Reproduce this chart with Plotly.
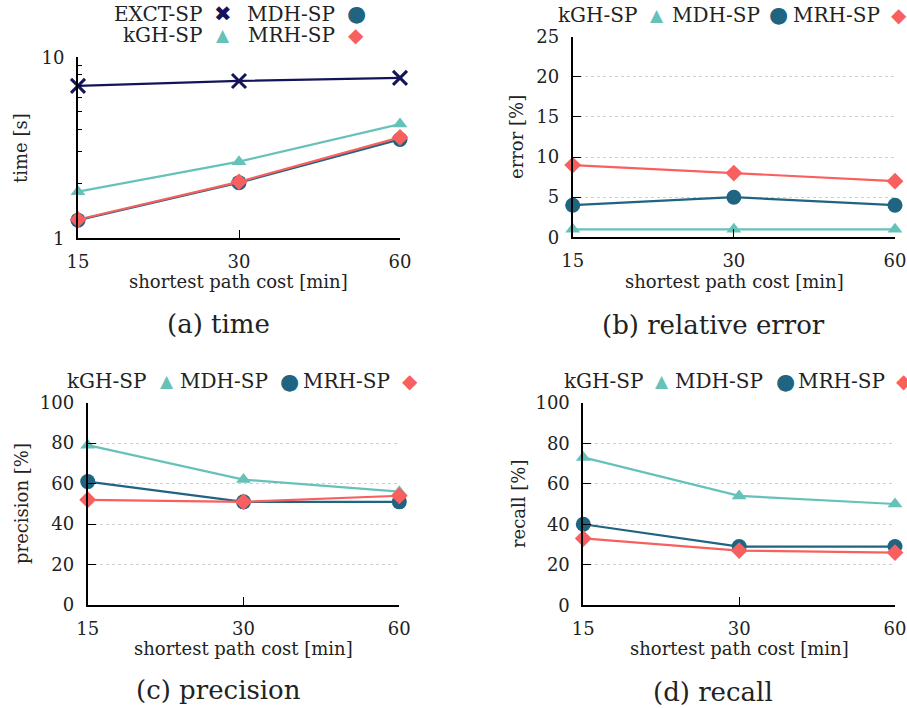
import plotly.graph_objects as go

W, H = 907, 708

# ---- data ----
x_cats = ["15", "30", "60"]
time_exct = [6.95, 7.40, 7.70]
time_kgh = [1.81, 2.65, 4.28]
time_mdh = [1.26, 2.03, 3.52]
time_mrh = [1.27, 2.05, 3.61]
err_kgh = [1, 1, 1]
err_mdh = [4, 5, 4]
err_mrh = [9, 8, 7]
prec_kgh = [79, 62, 56]
prec_mdh = [61, 51, 51]
prec_mrh = [52, 51, 54]
rec_kgh = [73, 54, 50]
rec_mdh = [40, 29, 29]
rec_mrh = [33, 27, 26]

C_EXCT = "#14145a"
C_KGH = "#66c2b9"
C_MDH = "#1f6481"
C_MRH = "#f8605f"

FONT = "DejaVu Serif"

def X(p):
    return p / W

def Y(p):
    return 1 - p / H

fig = go.Figure()

styles = {
    "EXCT": dict(color=C_EXCT, symbol="x-thin", size=14, line=dict(width=3, color=C_EXCT)),
    "kGH": dict(color=C_KGH, symbol="triangle-up", size=13),
    "MDH": dict(color=C_MDH, symbol="circle", size=15),
    "MRH": dict(color=C_MRH, symbol="diamond", size=13),
}
colors = {"EXCT": C_EXCT, "kGH": C_KGH, "MDH": C_MDH, "MRH": C_MRH}

def add(series, key, n):
    fig.add_trace(go.Scatter(
        x=x_cats, y=series, mode="lines+markers",
        line=dict(color=colors[key], width=2.2),
        marker=styles[key], cliponaxis=False, showlegend=False,
        xaxis="x" if n == 1 else f"x{n}", yaxis="y" if n == 1 else f"y{n}",
    ))

add(time_exct, "EXCT", 1)
add(time_kgh, "kGH", 1)
add(time_mdh, "MDH", 1)
add(time_mrh, "MRH", 1)
add(err_kgh, "kGH", 2)
add(err_mdh, "MDH", 2)
add(err_mrh, "MRH", 2)
add(prec_kgh, "kGH", 3)
add(prec_mdh, "MDH", 3)
add(prec_mrh, "MRH", 3)
add(rec_kgh, "kGH", 4)
add(rec_mdh, "MDH", 4)
add(rec_mrh, "MRH", 4)

tickfont = dict(family=FONT, size=18, color="#222")

def xax(dom):
    return dict(domain=dom, type="category", range=[0, 2], showgrid=False, zeroline=False,
                showline=True, linecolor="black", linewidth=1.8, ticks="inside", ticklen=8,
                tickcolor="black", tickwidth=1.2, tickfont=tickfont, ticklabelstandoff=6,
                automargin=False)

def yax(dom, anchor, **kw):
    d = dict(domain=dom, anchor=anchor, showgrid=True, gridcolor="#cfcfcf", griddash="dot",
             gridwidth=1, zeroline=False, showline=True, linecolor="black", linewidth=1.8,
             ticks="inside", ticklen=8, tickcolor="black", tickwidth=1.2, tickfont=tickfont,
             ticklabelstandoff=8, automargin=False)
    d.update(kw)
    return d

dom = {
    1: ([X(78), X(400)], [Y(238.3), Y(57.3)]),
    2: ([X(572.7), X(895)], [Y(237.3), Y(36.7)]),
    3: ([X(87.7), X(399.3)], [Y(605), Y(402.7)]),
    4: ([X(583.3), X(895)], [Y(605.3), Y(402.7)]),
}

fig.update_layout(
    width=W, height=H, margin=dict(l=0, r=0, t=0, b=0, pad=0, autoexpand=False),
    paper_bgcolor="white", plot_bgcolor="white", showlegend=False,
    xaxis=dict(**xax(dom[1][0]), anchor="y"),
    yaxis=yax(dom[1][1], "x", type="log", range=[0, 1], tickvals=[1, 10], ticktext=["1", "10"],
              minor=dict(tickvals=[2, 3, 4, 5, 6, 7, 8, 9], ticks="inside", ticklen=4,
                         tickcolor="black", showgrid=False)),
    xaxis2=dict(**xax(dom[2][0]), anchor="y2"),
    yaxis2=yax(dom[2][1], "x2", range=[0, 25], dtick=5),
    xaxis3=dict(**xax(dom[3][0]), anchor="y3"),
    yaxis3=yax(dom[3][1], "x3", range=[0, 100], dtick=20),
    xaxis4=dict(**xax(dom[4][0]), anchor="y4"),
    yaxis4=yax(dom[4][1], "x4", range=[0, 100], dtick=20),
)

ann = []
def text(s, px, py, size=18, angle=0, xanchor="center", color="#222", family=FONT):
    ann.append(dict(text=s, x=X(px), y=Y(py), xref="paper", yref="paper", showarrow=False,
                    xanchor=xanchor, yanchor="middle", textangle=angle,
                    font=dict(family=family, size=size, color=color)))

# axis titles
text("time [s]", 21, 148, angle=-90)
text("error [%]", 517, 137, angle=-90)
text("precision [%]", 21, 504, angle=-90)
text("recall [%]", 518, 504, angle=-90)
xt = "shortest path cost [min]"
text(xt, 239, 281)
text(xt, 734, 281)
text(xt, 243, 648)
text(xt, 739, 648)
# captions
text("(a) time", 218, 324, size=26)
text("(b) relative error", 713, 325, size=26)
text("(c) precision", 218, 690, size=26)
text("(d) recall", 713, 692, size=26)

# legends (label text followed by symbol)
SYM = {"EXCT": ("✖", 21), "kGH": ("▲", 17), "MDH": ("●", 22), "MRH": ("◆", 20)}
def leg(label, key, right, sx, py):
    text(label, right, py, size=20, xanchor="right")
    s, sz = SYM[key]
    text(s, sx, py, size=sz, color=colors[key], family="DejaVu Sans")

leg("EXCT-SP", "EXCT", 204, 223, 14)
leg("MDH-SP", "MDH", 337, 356, 14)
leg("kGH-SP", "kGH", 204, 223, 35)
leg("MRH-SP", "MRH", 337, 356, 35)

leg("kGH-SP", "kGH", 639, 657, 15)
leg("MDH-SP", "MDH", 762, 778, 15)
leg("MRH-SP", "MRH", 882, 899, 15)

leg("kGH-SP", "kGH", 148, 167, 381)
leg("MDH-SP", "MDH", 270, 289, 381)
leg("MRH-SP", "MRH", 392, 410, 381)

leg("kGH-SP", "kGH", 645, 662, 381)
leg("MDH-SP", "MDH", 765, 785, 381)
leg("MRH-SP", "MRH", 887, 904, 381)

fig.update_layout(annotations=ann)
fig.write_html("out.html")
